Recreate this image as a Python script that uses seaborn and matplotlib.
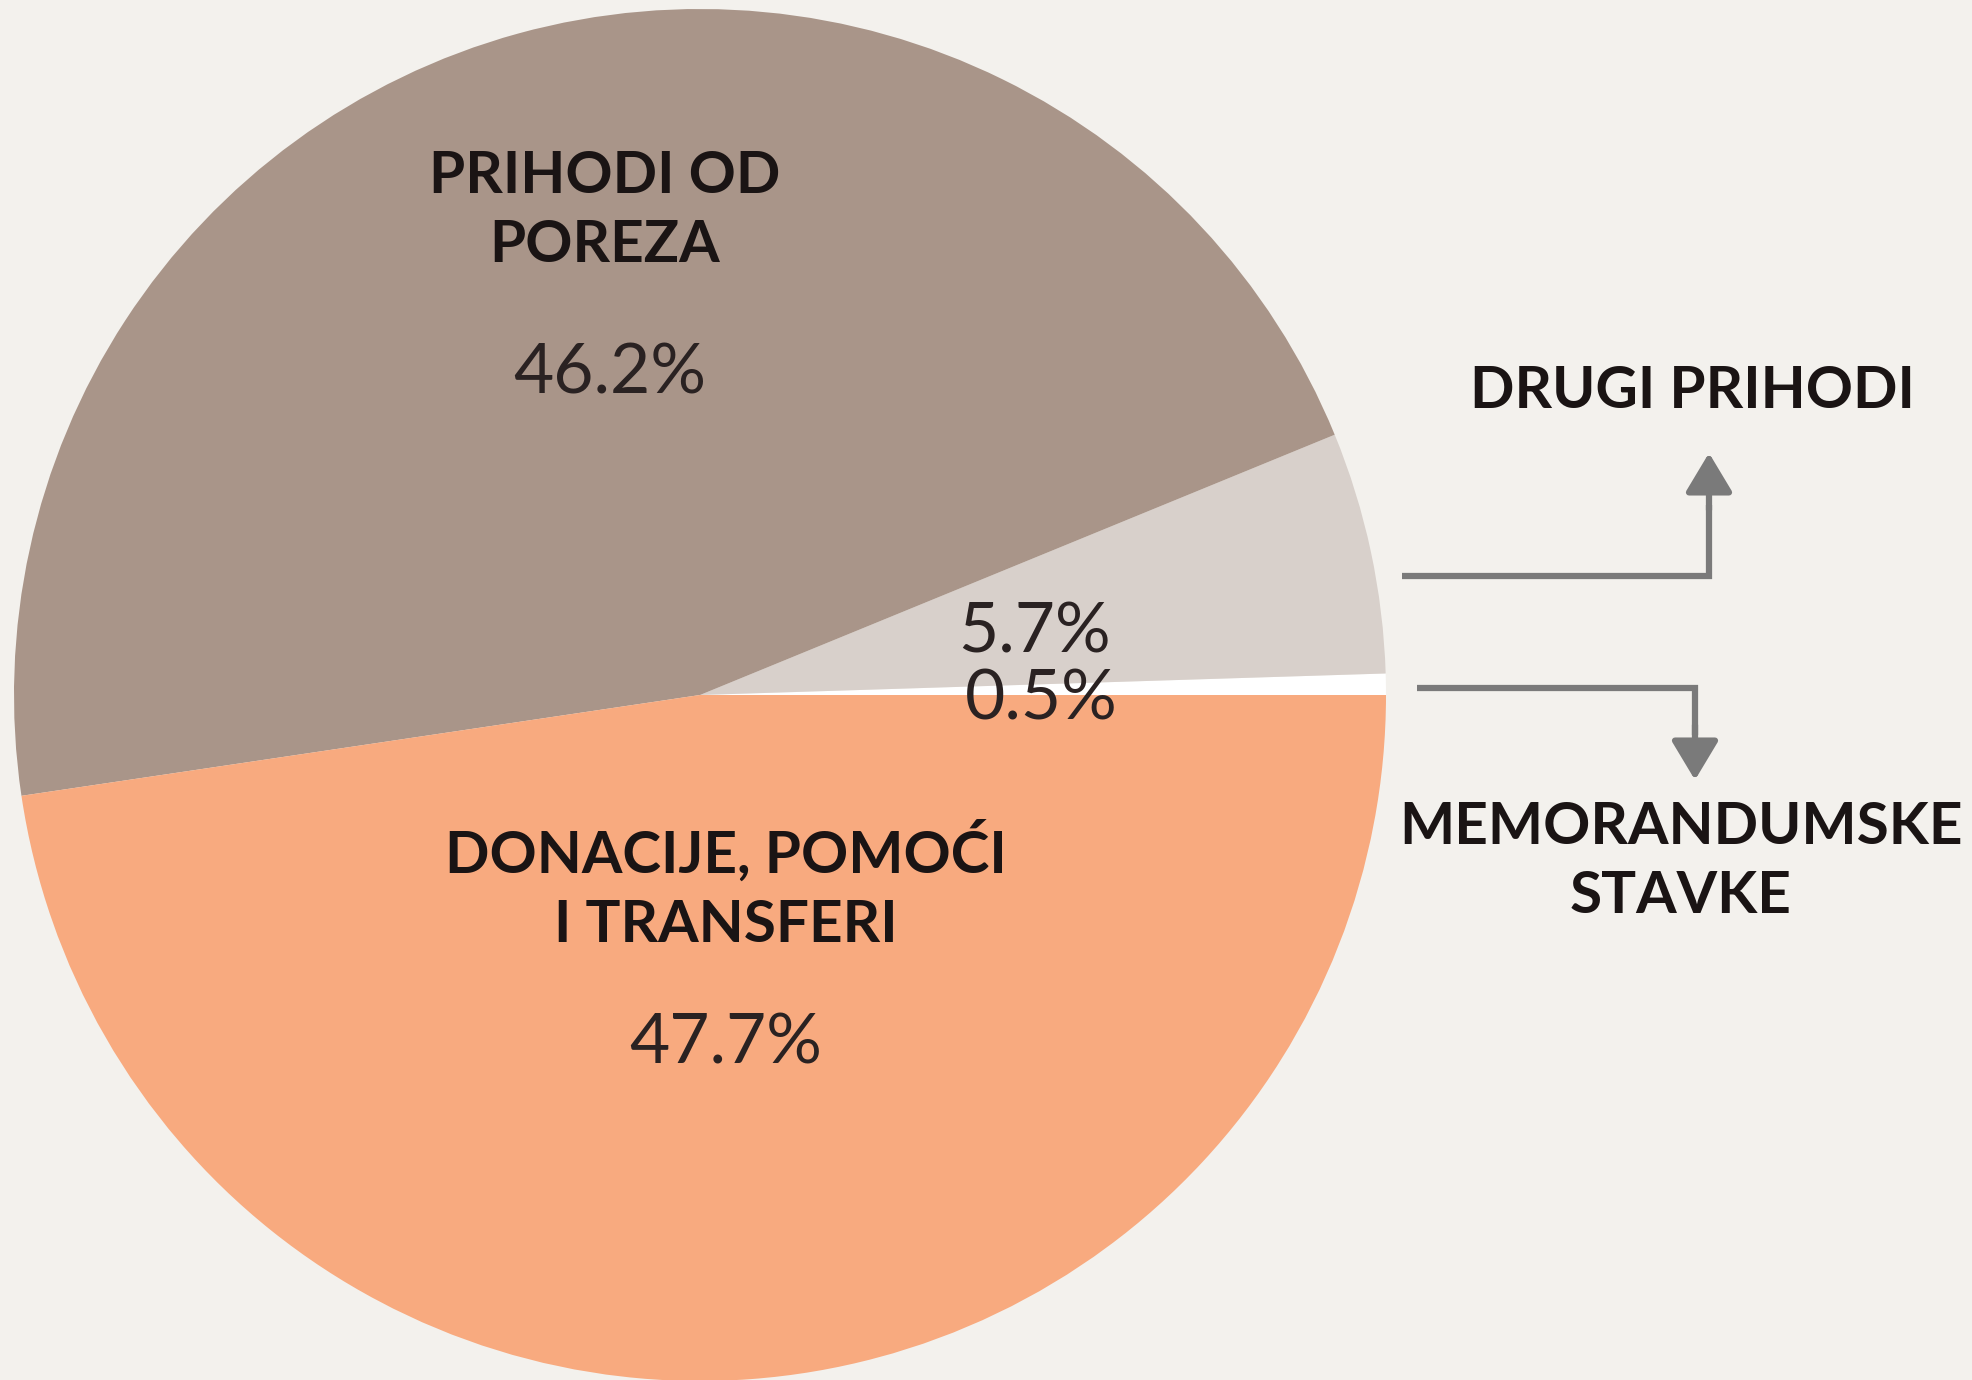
import numpy as np
import seaborn as sns
import matplotlib.pyplot as plt

# podaci (udio prihoda, %), redoslijed suprotno od kazaljke od 0°
kategorije = ['MEMORANDUMSKE\nSTAVKE', 'DRUGI PRIHODI', 'PRIHODI OD\nPOREZA', 'DONACIJE, POMOĆI\nI TRANSFERI']
udjeli = [0.5, 5.7, 46.2, 47.7]
boje = ['#ffffff', '#d8d0cb', '#a99589', '#f8aa7f']

pozadina = '#f3f1ed'

sns.set_theme(style='white', rc={'figure.facecolor': pozadina, 'axes.facecolor': pozadina})
plt.rcParams['font.family'] = ['Lato', 'DejaVu Sans']

W, H = 1972, 1380
fig = plt.figure(figsize=(W / 100, H / 100), dpi=100)
ax = fig.add_axes([0, 0, 1, 1])

cx, cy, r = 700, H - 695, 686
ax.pie(udjeli, colors=boje, startangle=0, counterclock=True,
       center=(cx, cy), radius=r, frame=True,
       wedgeprops=dict(linewidth=0))
ax.set_xlim(0, W)
ax.set_ylim(0, H)
ax.set_aspect('equal')
ax.axis('off')

crna = '#1a1414'
tamno = '#2a2222'
sivo = '#7a7a7a'
fs_nat = 42
fs_pct = 50
ls = 1.38

# natpisi unutar kruga
ax.text(605, H - 211, kategorije[2], ha='center', va='center', fontsize=fs_nat,
        fontweight='bold', color=crna, linespacing=ls)
ax.text(610, H - 374, f'{udjeli[2]}%', ha='center', va='center', fontsize=fs_pct, color=tamno)

ax.text(726, H - 886, kategorije[3], ha='center', va='center', fontsize=fs_nat,
        fontweight='bold', color=crna, linespacing=ls)
ax.text(726, H - 1044, f'{udjeli[3]}%', ha='center', va='center', fontsize=fs_pct, color=tamno)

ax.text(1034, H - 633, f'{udjeli[1]}%', ha='center', va='center', fontsize=fs_pct, color=tamno)
ax.text(1041, H - 700, f'{udjeli[0]}%', ha='center', va='center', fontsize=fs_pct, color=tamno)

# natpisi desno
ax.text(1692, H - 392, kategorije[1], ha='center', va='center', fontsize=fs_nat,
        fontweight='bold', color=crna)
ax.text(1681, H - 862, kategorije[0], ha='center', va='center', fontsize=fs_nat,
        fontweight='bold', color=crna, linespacing=ls)

# strelice
glava = '-|>,head_length=2.0,head_width=1.2'
ax.plot([1402, 1709, 1709], [H - 576, H - 576, H - 505], color=sivo, lw=4.5,
        solid_joinstyle='miter', solid_capstyle='butt')
ax.annotate('', xy=(1709, H - 453), xytext=(1709, H - 510),
            arrowprops=dict(arrowstyle=glava, color=sivo, lw=4.5, shrinkA=0, shrinkB=0))
ax.plot([1417, 1695, 1695], [H - 688, H - 688, H - 735], color=sivo, lw=4.5,
        solid_joinstyle='miter', solid_capstyle='butt')
ax.annotate('', xy=(1695, H - 780), xytext=(1695, H - 725),
            arrowprops=dict(arrowstyle=glava, color=sivo, lw=4.5, shrinkA=0, shrinkB=0))

fig.savefig('out.png', dpi=100, facecolor=pozadina)
